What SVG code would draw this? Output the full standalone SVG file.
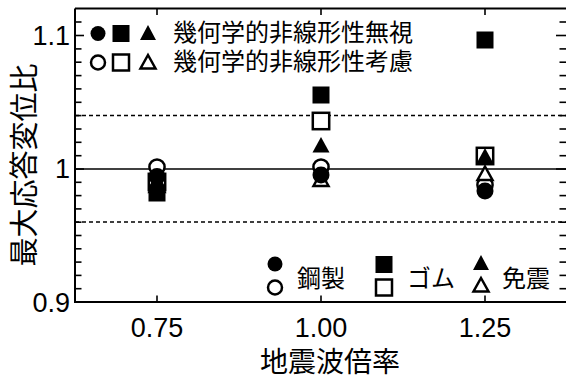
<svg xmlns="http://www.w3.org/2000/svg" width="566" height="378" viewBox="0 0 566 378">
<style>
.num{font-family:"Liberation Sans",Arial,sans-serif;font-size:27px;fill:#000}
.jp{font-family:"Noto Sans CJK JP","Noto Sans CJK SC",sans-serif;fill:#000}
.frame{fill:none;stroke:#000;stroke-width:2}
.tick{stroke:#000;stroke-width:1.6}
.ref{stroke:#000;stroke-width:1.6}
.dash{stroke:#000;stroke-width:1.3;stroke-dasharray:4 3}
.open{fill:#fff;stroke:#000;stroke-width:2.5}
.fill{fill:#000}
</style>
<defs>
<circle id="fc" r="8.5" class="fill"/>
<circle id="oc" r="7.6" class="open"/>
<rect id="fs" x="-8.5" y="-8.5" width="17" height="17" class="fill"/>
<rect id="os" x="-8.2" y="-8.2" width="16.4" height="16.4" class="open"/>
<path id="ft" d="M0,-9 L8.5,6.5 L-8.5,6.5Z" class="fill"/>
<path id="ot" d="M0,-7.5 L7.5,6 L-7.5,6Z" class="open"/>
<circle id="lfc" r="7.5" class="fill"/>
<circle id="loc" r="7" class="open"/>
<rect id="lfs" x="-8.5" y="-8.5" width="17" height="17" class="fill"/>
<rect id="los" x="-8" y="-8" width="16" height="16" class="open"/>
<path id="lft" d="M0,-8 L8,7 L-8,7Z" class="fill"/>
<path id="lot" d="M0,-7 L7.5,6.5 L-7.5,6.5Z" class="open"/>
</defs>

<g id="grid">
<line class="ref" x1="75" y1="169" x2="566" y2="169"/>
<line class="dash" x1="75" y1="115.5" x2="566" y2="115.5"/>
<line class="dash" x1="75" y1="222" x2="566" y2="222"/>
</g>

<g id="axes">
<path class="frame" d="M75,8.5 H567 M75,8.5 V302 H567"/>
<g id="yticks-left" class="tick">
<line x1="75" y1="22" x2="81.5" y2="22"/>
<line x1="75" y1="35.5" x2="84" y2="35.5"/>
<line x1="75" y1="48.9" x2="81.5" y2="48.9"/>
<line x1="75" y1="62.2" x2="81.5" y2="62.2"/>
<line x1="75" y1="75.6" x2="81.5" y2="75.6"/>
<line x1="75" y1="88.9" x2="81.5" y2="88.9"/>
<line x1="75" y1="102.3" x2="81.5" y2="102.3"/>
<line x1="75" y1="115.6" x2="81.5" y2="115.6"/>
<line x1="75" y1="129" x2="81.5" y2="129"/>
<line x1="75" y1="142.3" x2="81.5" y2="142.3"/>
<line x1="75" y1="155.7" x2="81.5" y2="155.7"/>
<line x1="75" y1="169" x2="84" y2="169"/>
<line x1="75" y1="182.3" x2="81.5" y2="182.3"/>
<line x1="75" y1="195.6" x2="81.5" y2="195.6"/>
<line x1="75" y1="208.9" x2="81.5" y2="208.9"/>
<line x1="75" y1="222.2" x2="81.5" y2="222.2"/>
<line x1="75" y1="235.5" x2="81.5" y2="235.5"/>
<line x1="75" y1="248.8" x2="81.5" y2="248.8"/>
<line x1="75" y1="262.1" x2="81.5" y2="262.1"/>
<line x1="75" y1="275.4" x2="81.5" y2="275.4"/>
<line x1="75" y1="288.7" x2="81.5" y2="288.7"/>
</g>
<g id="yticks-right" class="tick">
<line x1="566" y1="22" x2="559.5" y2="22"/>
<line x1="566" y1="35.5" x2="556" y2="35.5"/>
<line x1="566" y1="48.9" x2="559.5" y2="48.9"/>
<line x1="566" y1="62.2" x2="559.5" y2="62.2"/>
<line x1="566" y1="75.6" x2="559.5" y2="75.6"/>
<line x1="566" y1="88.9" x2="559.5" y2="88.9"/>
<line x1="566" y1="102.3" x2="559.5" y2="102.3"/>
<line x1="566" y1="115.6" x2="559.5" y2="115.6"/>
<line x1="566" y1="129" x2="559.5" y2="129"/>
<line x1="566" y1="142.3" x2="559.5" y2="142.3"/>
<line x1="566" y1="155.7" x2="559.5" y2="155.7"/>
<line x1="566" y1="169" x2="556" y2="169"/>
<line x1="566" y1="182.3" x2="559.5" y2="182.3"/>
<line x1="566" y1="195.6" x2="559.5" y2="195.6"/>
<line x1="566" y1="208.9" x2="559.5" y2="208.9"/>
<line x1="566" y1="222.2" x2="559.5" y2="222.2"/>
<line x1="566" y1="235.5" x2="559.5" y2="235.5"/>
<line x1="566" y1="248.8" x2="559.5" y2="248.8"/>
<line x1="566" y1="262.1" x2="559.5" y2="262.1"/>
<line x1="566" y1="275.4" x2="559.5" y2="275.4"/>
<line x1="566" y1="288.7" x2="559.5" y2="288.7"/>
</g>
<g id="xticks" class="tick">
<line x1="157" y1="302" x2="157" y2="295.5"/>
<line x1="321" y1="302" x2="321" y2="295.5"/>
<line x1="485" y1="302" x2="485" y2="295.5"/>
<line x1="157" y1="8.5" x2="157" y2="15"/>
<line x1="321" y1="8.5" x2="321" y2="15"/>
<line x1="485" y1="8.5" x2="485" y2="15"/>
</g>
</g>

<g id="axis-labels">
<text class="num" x="70" y="45" text-anchor="end">1.1</text>
<text class="num" x="70" y="178" text-anchor="end">1</text>
<text class="num" x="70" y="312" text-anchor="end">0.9</text>
<text class="num" x="157" y="337" text-anchor="middle">0.75</text>
<text class="num" x="321" y="337" text-anchor="middle">1.00</text>
<text class="num" x="485" y="337" text-anchor="middle">1.25</text>
<text class="jp" x="330" y="372" font-size="28" text-anchor="middle">地震波倍率</text>
<text class="jp" transform="translate(35,165) rotate(-90)" font-size="29" text-anchor="middle">最大応答変位比</text>
</g>

<g id="legend-top">
<use href="#lfc" x="98" y="33.5"/>
<use href="#lfs" x="121" y="33.5"/>
<use href="#lft" x="148" y="33"/>
<text class="jp" x="173" y="41" font-size="24">幾何学的非線形性無視</text>
<use href="#loc" x="98" y="62.5"/>
<use href="#los" x="121" y="62.5"/>
<use href="#lot" x="148" y="62"/>
<text class="jp" x="173" y="70" font-size="24">幾何学的非線形性考慮</text>
</g>

<g id="legend-bottom">
<use href="#lfc" x="275" y="264"/>
<use href="#loc" x="275" y="287.5"/>
<text class="jp" x="297" y="287" font-size="24">鋼製</text>
<use href="#lfs" x="384" y="264.5"/>
<use href="#los" x="384" y="287.5"/>
<text class="jp" x="407" y="287" font-size="24">ゴム</text>
<use href="#lft" x="481" y="263"/>
<use href="#lot" x="481" y="285"/>
<text class="jp" x="502" y="287" font-size="24">免震</text>
</g>

<g id="data-075">
<use href="#oc" x="157" y="167"/>
<use href="#os" x="157" y="182"/>
<use href="#ot" x="157" y="186"/>
<use href="#fc" x="157" y="176.5"/>
<use href="#ft" x="157" y="181"/>
<use href="#fs" x="157" y="193"/>
</g>

<g id="data-100">
<use href="#fs" x="321" y="95"/>
<use href="#os" x="321" y="121"/>
<use href="#ft" x="321" y="146"/>
<use href="#ot" x="321" y="180"/>
<use href="#oc" x="321" y="167"/>
<use href="#fc" x="321" y="175"/>
</g>

<g id="data-125">
<use href="#fs" x="485" y="40"/>
<use href="#os" x="485" y="156"/>
<use href="#ft" x="485" y="157"/>
<use href="#oc" x="485" y="185"/>
<use href="#fc" x="485" y="191"/>
<use href="#ot" x="485" y="174"/>
</g>
</svg>
